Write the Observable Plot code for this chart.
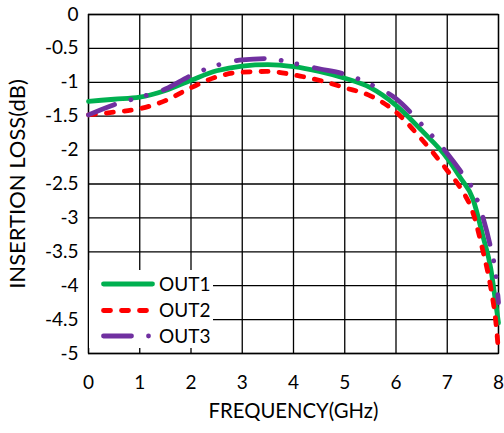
<!DOCTYPE html>
<html><head><meta charset="utf-8">
<script src="https://cdn.jsdelivr.net/npm/d3@7"></script>
<script src="https://cdn.jsdelivr.net/npm/@observablehq/plot@0.6"></script>
<style>
body{margin:0;background:#fff;}
#wrap{position:relative;width:504px;height:433px;font-family:Lato,"Open Sans",sans-serif;}
#wrap svg text{fill:#000;}
g[aria-label="x-axis label"] text{font-size:20.3px;}
g[aria-label="y-axis label"] text{font-size:22px;}
#legend{position:absolute;left:89px;top:270px;width:124px;height:78px;background:#fff;}
</style></head><body><div id="wrap"></div>
<script>
const freq = [0,0.5,1,1.5,2,2.5,3,3.5,4,4.5,5,5.5,6,6.5,7,7.25,7.5,7.7,7.85,7.95,8];
const out1 = [-1.28,-1.25,-1.22,-1.12,-0.97,-0.83,-0.76,-0.74,-0.77,-0.84,-0.94,-1.08,-1.34,-1.71,-2.12,-2.4,-2.72,-3.28,-3.75,-4.28,-4.55];
const out2 = [-1.48,-1.44,-1.39,-1.27,-1.08,-0.92,-0.85,-0.84,-0.89,-0.97,-1.08,-1.2,-1.44,-1.84,-2.3,-2.55,-2.92,-3.5,-4.03,-4.55,-4.97];
const out3 = [-1.48,-1.33,-1.22,-1.1,-0.9,-0.75,-0.67,-0.65,-0.72,-0.8,-0.88,-1.03,-1.24,-1.62,-2.05,-2.3,-2.58,-3.0,-3.45,-3.85,-4.25];
const seriesNames = ["OUT1","OUT2","OUT3"];
const seriesColors = ["#00B050","#FF0000","#7030A0"];
const seriesDash = [null,"7 11","28 17 0.01 16 0.01 18"];
const xTicks = [0,1,2,3,4,5,6,7,8];
const yTicks = [0,-0.5,-1,-1.5,-2,-2.5,-3,-3.5,-4,-4.5,-5];

const allSeries = [out1,out2,out3];
const lineMarks = allSeries.map((vals,i) => Plot.line(freq.map((f,j)=>({f, v: vals[j]})), {
  x:"f", y:"v", stroke: seriesColors[i], strokeWidth:4.8, curve:"monotone-x",
  strokeLinecap:"round", strokeLinejoin:"round", strokeDasharray: seriesDash[i] ?? undefined
}));

const chart = Plot.plot({
  width:504, height:433,
  marginLeft:88, marginRight:6, marginTop:14, marginBottom:80,
  style:{fontSize:"19px", fontFamily:"Lato, 'Open Sans', sans-serif", background:"#fff"},
  x:{domain:[0,8], ticks:xTicks, tickFormat:d=>String(d), tickSize:0, tickPadding:22,
     label:"FREQUENCY(GHz)", labelAnchor:"center", labelOffset:64, labelArrow:"none"},
  y:{domain:[-5,0], ticks:yTicks, tickFormat:d=>String(d), tickSize:0, tickPadding:10,
     label:"INSERTION LOSS(dB)", labelAnchor:"center", labelOffset:79, labelArrow:"none"},
  marks:[
    Plot.gridX(xTicks,{stroke:"#000", strokeOpacity:1, strokeWidth:1.3}),
    Plot.gridY(yTicks,{stroke:"#000", strokeOpacity:1, strokeWidth:1.3}),
    Plot.frame({stroke:"#000", strokeWidth:1.3}),
    ...lineMarks
  ]
});
const wrap = document.getElementById("wrap");
wrap.appendChild(chart);

// legend
const lg = document.createElement("div");
lg.id = "legend";
const ns = "http://www.w3.org/2000/svg";
const svg = document.createElementNS(ns,"svg");
svg.setAttribute("width",124); svg.setAttribute("height",78);
const rowY = [14,40.5,66];
seriesNames.forEach((name,i)=>{
  const ln = document.createElementNS(ns,"line");
  ln.setAttribute("x1",14.5); ln.setAttribute("x2",63.5);
  ln.setAttribute("y1",rowY[i]); ln.setAttribute("y2",rowY[i]);
  ln.setAttribute("stroke",seriesColors[i]); ln.setAttribute("stroke-width",4.8);
  ln.setAttribute("stroke-linecap","round");
  if (seriesDash[i]) ln.setAttribute("stroke-dasharray",seriesDash[i]);
  svg.appendChild(ln);
  const t = document.createElementNS(ns,"text");
  t.setAttribute("x",70); t.setAttribute("y",rowY[i]); t.setAttribute("dy","0.35em");
  t.setAttribute("font-size","19px"); t.textContent = name;
  svg.appendChild(t);
});
lg.appendChild(svg);
wrap.appendChild(lg);
</script></body></html>
